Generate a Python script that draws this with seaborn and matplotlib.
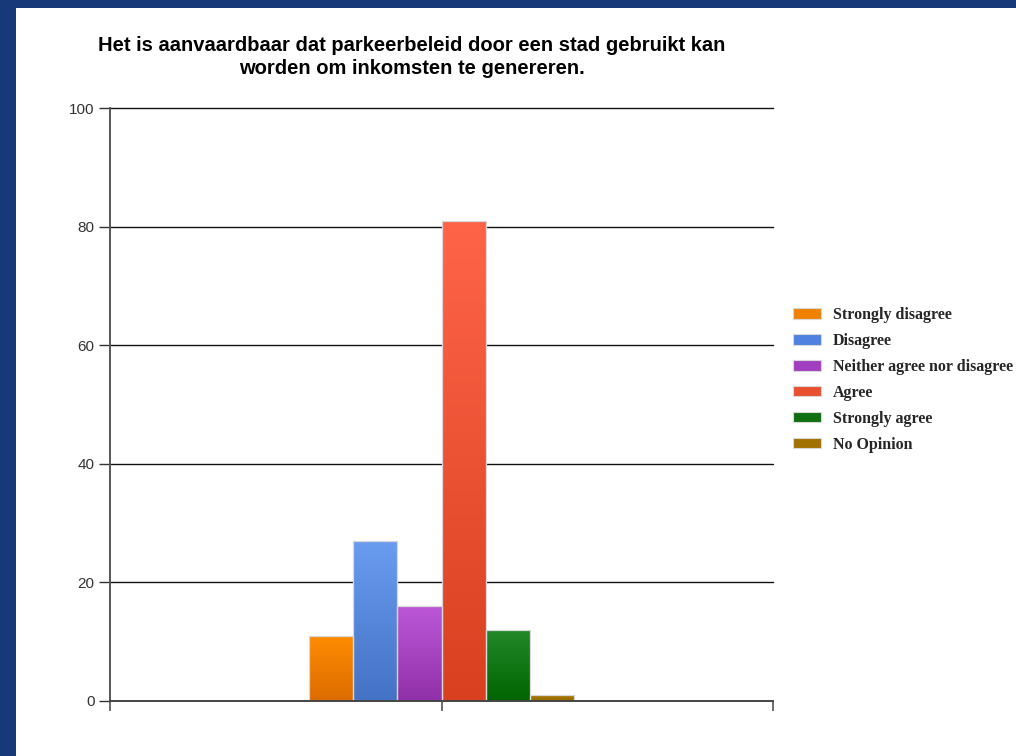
import numpy as np
import pandas as pd
import matplotlib
matplotlib.use("Agg")
import matplotlib.pyplot as plt
from matplotlib.patches import Rectangle
from matplotlib.colors import LinearSegmentedColormap
import seaborn as sns

# ---- data ----
categories = ["Strongly disagree", "Disagree", "Neither agree nor disagree",
              "Agree", "Strongly agree", "No Opinion"]
values = [11, 27, 16, 81, 12, 1]
yticks = [0, 20, 40, 60, 80, 100]
title = ("Het is aanvaardbaar dat parkeerbeleid door een stad gebruikt kan\n"
         "worden om inkomsten te genereren.")

legend_colors = ["#f08000", "#5080e0", "#a040c0", "#e85030", "#107010", "#a07000"]
grad_top = ["#ff8c00", "#6a9cf0", "#bc58d8", "#ff6448", "#23892a", "#a87800"]
grad_bot = ["#dc6c00", "#4472c4", "#9030a8", "#d84020", "#006400", "#9a6a00"]

df = pd.DataFrame({"group": [""] * len(categories), "answer": categories, "value": values})

sns.set_style("white")
fig = plt.figure(figsize=(10.16, 7.56), dpi=100)
fig.patch.set_facecolor("#17397a")
bg = fig.add_axes([16 / 1016, 0, 1 - 16 / 1016, 1 - 8 / 756], zorder=-10)
bg.set_facecolor("white")
bg.set_xticks([]); bg.set_yticks([])
for s in bg.spines.values():
    s.set_visible(False)

ax = fig.add_axes([110 / 1016, 1 - 701 / 756, 663 / 1016, (701 - 108) / 756], zorder=1)
ax.set_facecolor("none")

sns.barplot(data=df, x="group", y="value", hue="answer", hue_order=categories,
            palette=legend_colors, width=0.4, gap=0, ax=ax, legend=False,
            edgecolor="#d8d8d8", linewidth=0.9, zorder=3)

# gradient fill for bars
for i, patch in enumerate(ax.patches):
    bb = patch.get_bbox()
    cmap = LinearSegmentedColormap.from_list("g", [grad_bot[i], grad_top[i]])
    grad = np.linspace(0, 1, 256).reshape(-1, 1)
    im = ax.imshow(grad, extent=[bb.x0, bb.x1, bb.y0, bb.y1], origin="lower",
                   cmap=cmap, aspect="auto", zorder=3.5, interpolation="bilinear")
    im.set_clip_path(patch)
    patch.set_facecolor("none")
    patch.set_zorder(4)

ax.set_xlim(-0.5, 0.5)
ax.set_ylim(0, 100)
ax.set_yticks(yticks)
ax.set_yticklabels([str(t) for t in yticks])
ax.set_xticks([-0.5, 0, 0.5])
ax.set_xticklabels(["", "", ""])
ax.set_xlabel("")
ax.set_ylabel("")
ax.grid(False)
for t in yticks[1:]:
    ax.axhline(t, color="#111111", linewidth=1.0, zorder=1, clip_on=False)

for s in ["top", "right"]:
    ax.spines[s].set_visible(False)
ax.spines["left"].set_color("#555555")
ax.spines["left"].set_linewidth(1.4)
ax.spines["bottom"].set_color("#444444")
ax.spines["bottom"].set_linewidth(1.4)
ax.spines["bottom"].set_zorder(5)

ax.tick_params(axis="y", direction="out", length=8, width=1.0, color="#333333",
               labelsize=11, labelcolor="#333333", pad=3, left=True)
ax.tick_params(axis="x", direction="out", length=7, width=1.2, color="#555555",
               bottom=True)
for lbl in ax.get_yticklabels():
    lbl.set_family(["Liberation Sans", "DejaVu Sans"])

fig.text(412 / 1016, 1 - 57 / 756, title, ha="center", va="center",
         fontsize=14.5, fontweight="bold", family=["Liberation Sans", "DejaVu Sans"],
         linespacing=1.32, color="black")

handles = [Rectangle((0, 0), 1, 1, facecolor=c, edgecolor="#d8d8d8", linewidth=0.8)
           for c in legend_colors]
leg = fig.legend(handles, categories, loc="upper left",
                 bbox_to_anchor=(793 / 1016, 1 - 307 / 756),
                 frameon=False, prop={"family": "Liberation Serif", "weight": "bold", "size": 11.5},
                 handlelength=1.75, handleheight=0.65, handletextpad=0.75,
                 labelspacing=0.62, borderaxespad=0, borderpad=0)

fig.savefig("out.png", dpi=100, facecolor=fig.get_facecolor())
